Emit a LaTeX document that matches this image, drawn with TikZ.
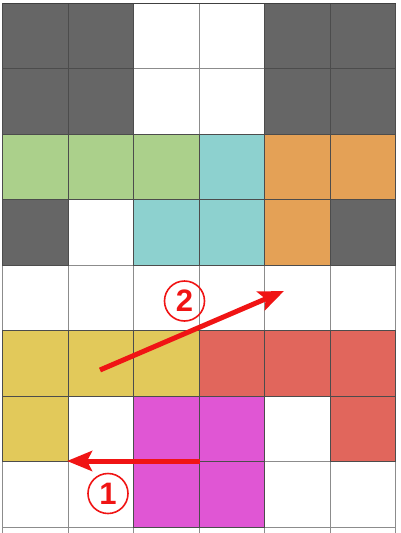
\documentclass[tikz,border=0pt]{standalone}
\usepackage{fontspec}
\setmainfont{Liberation Sans}
\usetikzlibrary{arrows.meta}
\definecolor{cdark}{HTML}{666666}
\definecolor{cgreen}{HTML}{ABD08B}
\definecolor{cteal}{HTML}{8DD1CF}
\definecolor{corange}{HTML}{E4A156}
\definecolor{cyellow}{HTML}{E2C95A}
\definecolor{cred}{HTML}{E1665C}
\definecolor{cmag}{HTML}{E056D4}
\definecolor{arrred}{RGB}{240,20,20}
\tikzset{
  cell/.style={draw=black!70,line width=0.8pt},
  gridline/.style={draw=black!45,line width=0.8pt},
  movearrow/.style={draw=arrred,line width=5pt,-{Stealth[length=25pt,width=20pt,inset=5pt]}},
  steplabel/.style={circle,draw=arrred,line width=1.6pt,inner sep=0pt,minimum size=40pt,text=arrred,font=\bfseries\fontsize{31}{31}\selectfont}
}
\begin{document}
\begin{tikzpicture}[x=1pt,y=-1pt]
\useasboundingbox (0,0) rectangle (400,533);
\fill[white] (0,0) rectangle (400,533);
\def\cs{65.5}
\def\xo{2.5}
\def\yo{3}
% grid
\foreach \c in {0,...,6} {
  \draw[gridline] (\xo+\c*\cs,\yo) -- (\xo+\c*\cs,533);
}
\foreach \r in {0,...,8} {
  \draw[gridline] (\xo,\yo+\r*\cs) -- (\xo+6*\cs,\yo+\r*\cs);
}
% coloured cells
\foreach \c/\r/\col in {
  0/0/cdark,1/0/cdark,4/0/cdark,5/0/cdark,
  0/1/cdark,1/1/cdark,4/1/cdark,5/1/cdark,
  0/2/cgreen,1/2/cgreen,2/2/cgreen,3/2/cteal,4/2/corange,5/2/corange,
  0/3/cdark,2/3/cteal,3/3/cteal,4/3/corange,5/3/cdark,
  0/5/cyellow,1/5/cyellow,2/5/cyellow,3/5/cred,4/5/cred,5/5/cred,
  0/6/cyellow,2/6/cmag,3/6/cmag,5/6/cred,
  2/7/cmag,3/7/cmag} {
  \filldraw[cell,fill=\col] (\xo+\c*\cs,\yo+\r*\cs) rectangle ++(\cs,\cs);
}
\draw[black!75,line width=1pt] (\xo,\yo) -- (\xo+6*\cs,\yo);
% arrows
\coordinate (a1s) at (200,461);
\coordinate (a1e) at (67,461);
\coordinate (a2s) at (100,370);
\coordinate (a2e) at (284,291);
\draw[movearrow] (a1s) -- (a1e);
\draw[movearrow] (a2s) -- (a2e);
\node[steplabel] (l1) at (108,493.5) {1};
\node[steplabel] (l2) at (184.5,301) {2};
\end{tikzpicture}
\end{document}
